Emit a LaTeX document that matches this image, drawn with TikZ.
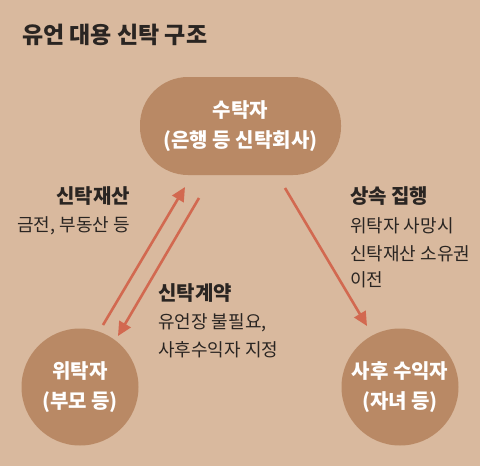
\documentclass[tikz,border=0pt]{standalone}
\usepackage{fontspec}
\setmainfont{Noto Sans CJK KR}
\usetikzlibrary{arrows.meta}
\definecolor{bg}{HTML}{D9B99E}
\definecolor{nodefill}{HTML}{B98965}
\definecolor{arrowc}{HTML}{D26950}
\definecolor{ink}{HTML}{2A2522}
\begin{document}
\begin{tikzpicture}[x=1pt,y=-1pt,
  entity/.style={fill=nodefill,draw=none,text=white,align=center,font=\fontsize{20}{30}\selectfont\bfseries},
  flow/.style={draw=arrowc,line width=2.6pt,-{Triangle[length=14pt,width=13pt]}},
  heading/.style={text=ink,inner sep=0pt,font=\fontsize{20}{24}\selectfont\bfseries},
  body/.style={text=ink,inner sep=0pt,font=\fontsize{18}{22}\selectfont}]
\path[use as bounding box,fill=bg] (0,0) rectangle (480,466);
\node[text=ink,inner sep=0pt,anchor=base west,font=\fontsize{23}{26}\selectfont\bfseries] (title) at (22,43) {유언 대용 신탁 구조};
\node[entity,rounded corners=48pt,minimum width=201pt,minimum height=98pt] (trustee) at (240.5,126) {수탁자\\(은행 등 신탁회사)};
\node[entity,circle,minimum size=117pt,inner sep=0pt] (settlor) at (80,387) {위탁자\\(부모 등)};
\node[entity,circle,minimum size=117pt,inner sep=0pt] (benef) at (400,387) {사후 수익자\\(자녀 등)};
\coordinate (a1s) at (103,325);
\coordinate (a1e) at (185,187);
\coordinate (a2s) at (199,198);
\coordinate (a2e) at (118,336);
\coordinate (a3s) at (285,188);
\coordinate (a3e) at (367,326);
\draw[flow] (a1s) -- (a1e);
\draw[flow] (a2s) -- (a2e);
\draw[flow] (a3s) -- (a3e);
\node[heading,anchor=base east] (h1) at (130,203) {신탁재산};
\node[body,anchor=base east] (b1) at (130,231) {금전, 부동산 등};
\node[heading,anchor=base west] (h2) at (158,300) {신탁계약};
\node[body,anchor=base west] (b2a) at (158,328) {유언장 불필요,};
\node[body,anchor=base west] (b2b) at (158,356) {사후수익자 지정};
\node[heading,anchor=base west] (h3) at (350,203) {상속 집행};
\node[body,anchor=base west] (b3a) at (350,232) {위탁자 사망시};
\node[body,anchor=base west] (b3b) at (350,260) {신탁재산 소유권};
\node[body,anchor=base west] (b3c) at (350,286) {이전};
\end{tikzpicture}
\end{document}
